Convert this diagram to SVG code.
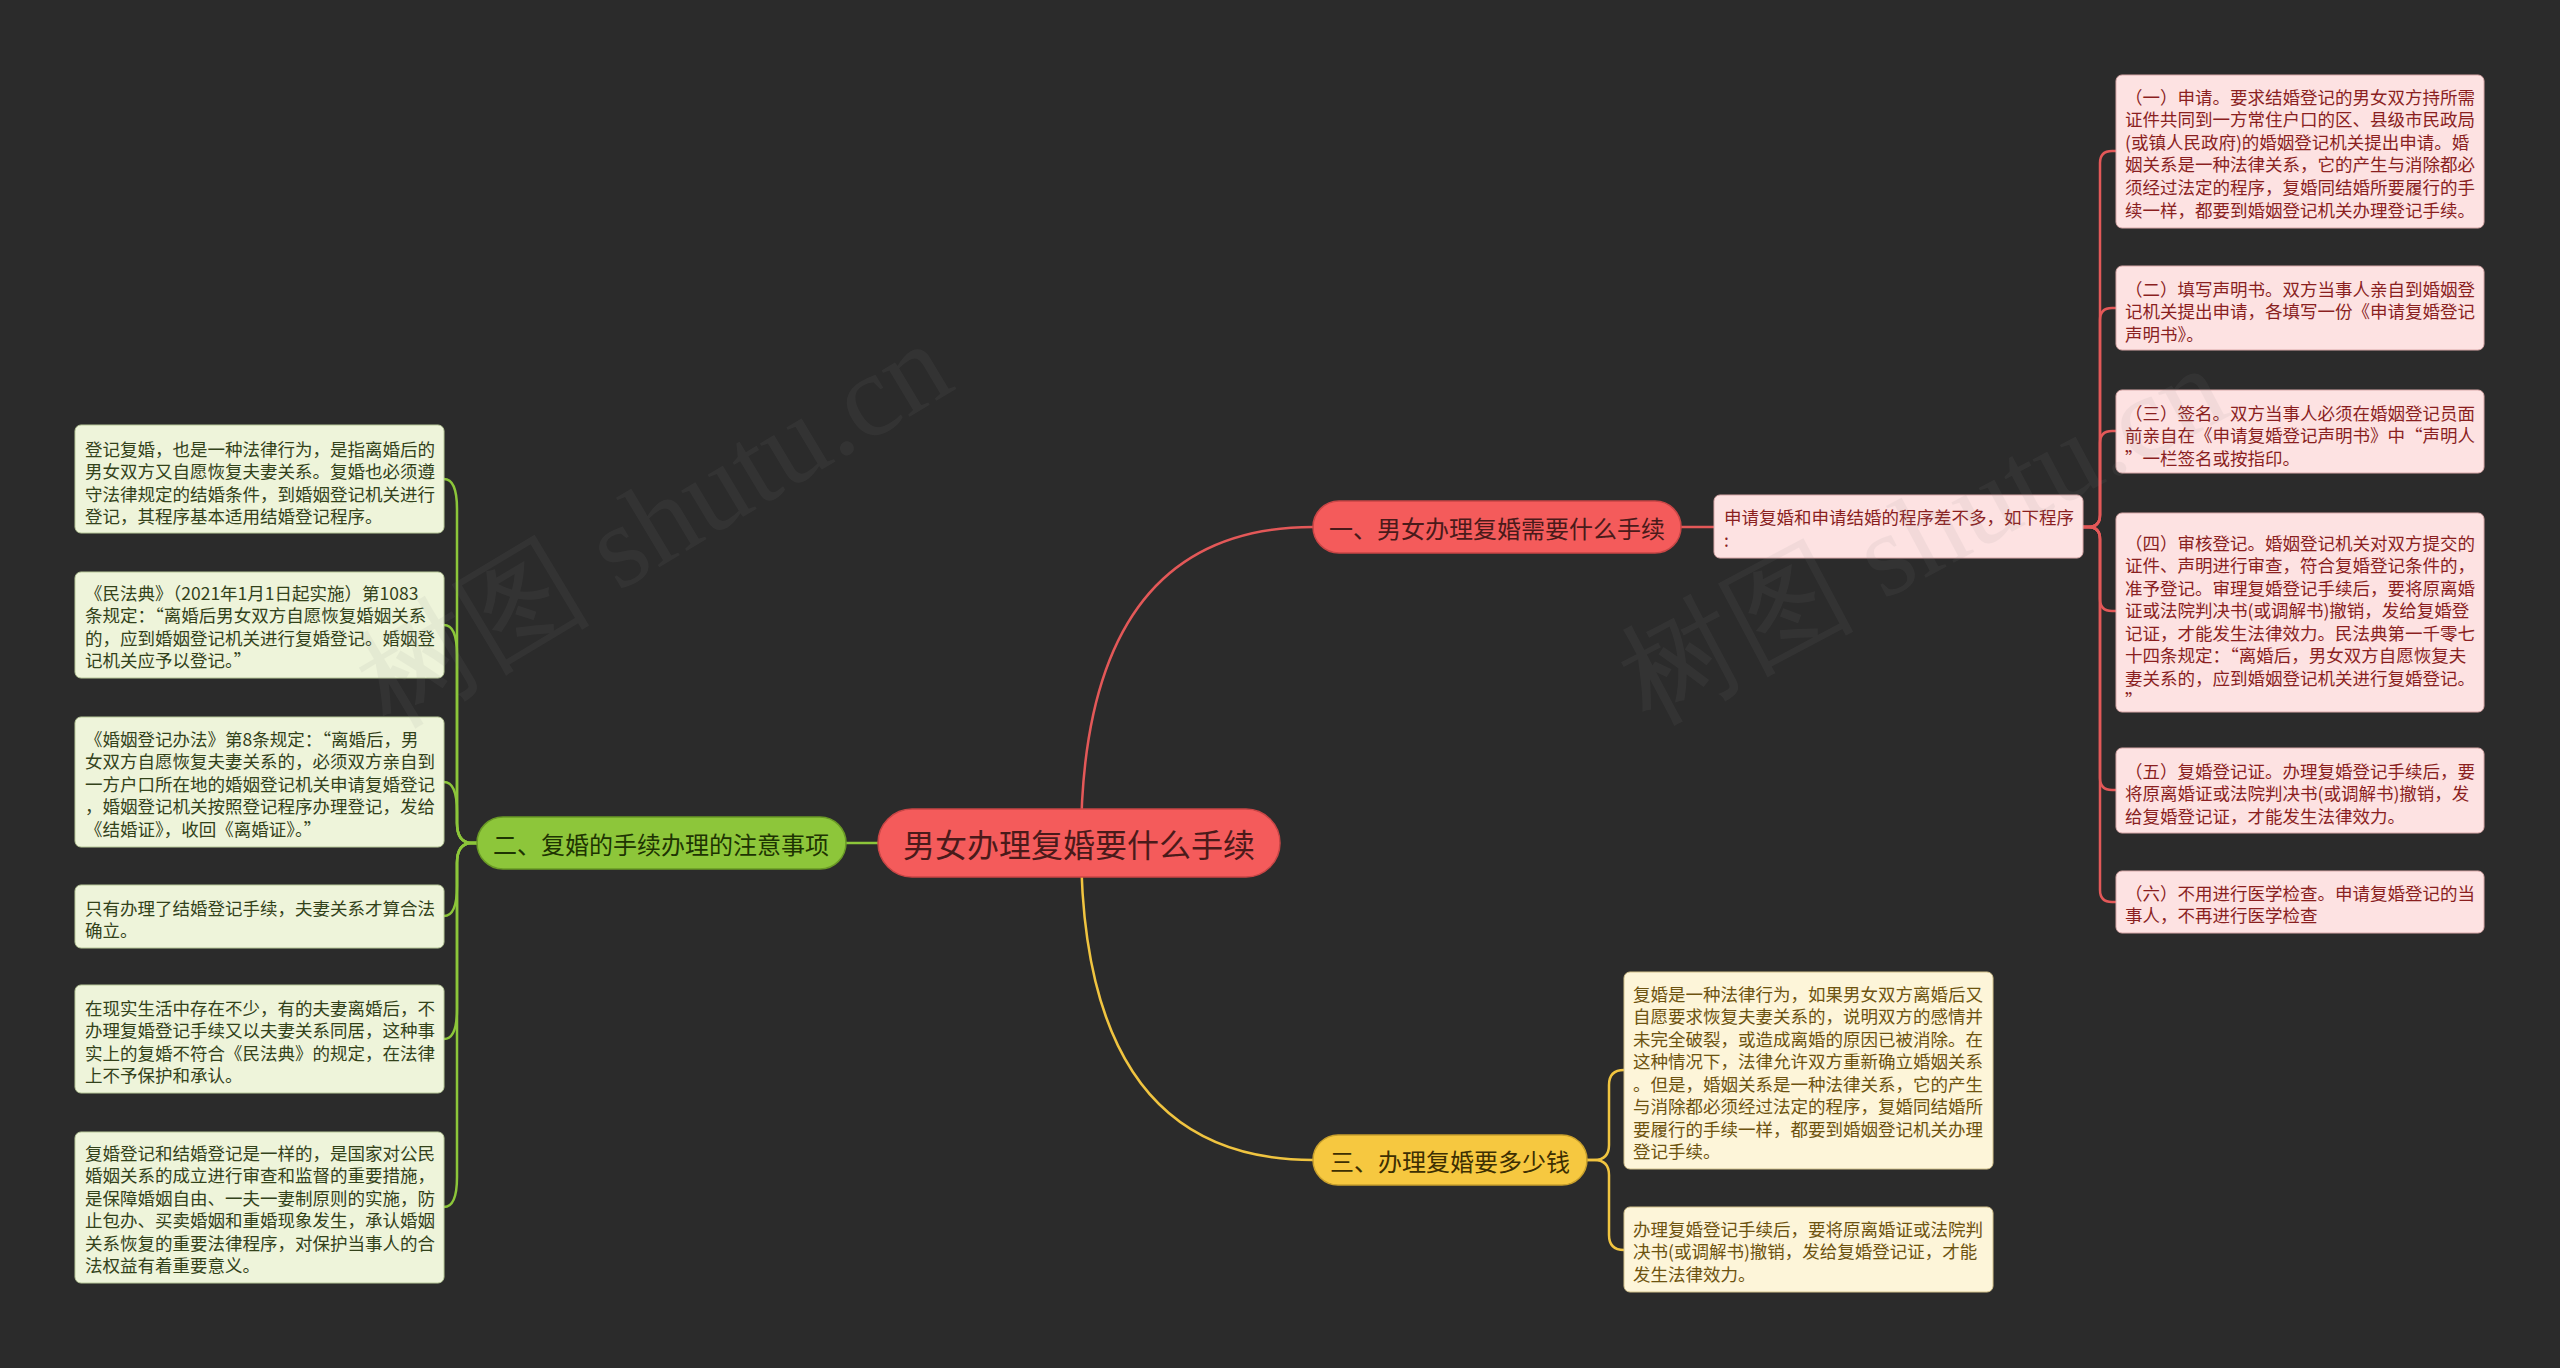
<svg xmlns="http://www.w3.org/2000/svg" width="2560" height="1368" viewBox="0 0 2560 1368">
<defs>
<style>
text{font-family:"Noto Sans CJK SC","Noto Sans",sans-serif;dominant-baseline:central}
.bg{fill:#2b2b2b}
.root{fill:#f45b5b;stroke:#c94646;stroke-width:1.5}
.roott{fill:#4a1a1a;font-size:32px}
.b1{fill:#f45b5b;stroke:#c94646;stroke-width:1.5}
.b1t{fill:#4a1a1a;font-size:24px}
.b2{fill:#8dc63a;stroke:#6a9a26;stroke-width:1.5}
.b2t{fill:#1e3402;font-size:24px}
.b3{fill:#f6c840;stroke:#c9a02c;stroke-width:1.5}
.b3t{fill:#3d2f02;font-size:24px}
.rc{fill:#fde2e2;stroke:#d9a9a9;stroke-width:1}
.rt{fill:#8a1f1f;font-size:17.5px}
.gc{fill:#eef4da;stroke:#b9c99a;stroke-width:1}
.gt{fill:#33421a;font-size:17.5px}
.yc{fill:#fdf5d9;stroke:#d3c28c;stroke-width:1}
.yt{fill:#6d5310;font-size:17.5px}
.lr{fill:none;stroke:#e35858;stroke-width:2.5}
.lg{fill:none;stroke:#8cc63a;stroke-width:2.5}
.ly{fill:none;stroke:#f0c440;stroke-width:2.5}
.wm{fill:#8a8a8a;opacity:0.09;font-family:"Liberation Serif",serif;font-size:118px}
</style>
</defs>
<rect class="bg" x="0" y="0" width="2560" height="1368"/>

<g id="connectors">
<path class="lr" d="M1081,843 Q1081,527 1313,527"/>
<path class="ly" d="M1081,843 Q1081,1160 1313,1160"/>
<path class="lg" d="M878,843 L846,843"/>
<path class="lr" d="M1681,527 L1714,527"/>
<path class="lr" d="M2083,527 H2088 Q2100,527 2100,515 V163 Q2100,151 2112,151 H2116"/>
<path class="lr" d="M2083,527 H2088 Q2100,527 2100,515 V320 Q2100,308 2112,308 H2116"/>
<path class="lr" d="M2083,527 H2088 Q2100,527 2100,515 V443 Q2100,431 2112,431 H2116"/>
<path class="lr" d="M2083,527 H2088 Q2100,527 2100,539 V599 Q2100,611 2112,611 H2116"/>
<path class="lr" d="M2083,527 H2088 Q2100,527 2100,539 V778 Q2100,790 2112,790 H2116"/>
<path class="lr" d="M2083,527 H2088 Q2100,527 2100,539 V890 Q2100,902 2112,902 H2116"/>
<path class="ly" d="M1587,1160 H1594 Q1609,1160 1609,1145 V1085 Q1609,1070 1624,1070"/>
<path class="ly" d="M1587,1160 H1594 Q1609,1160 1609,1175 V1235 Q1609,1250 1624,1250"/>
<path class="lg" d="M477,843 H472 Q457,843 457,823 V509 Q457,479 444,479"/>
<path class="lg" d="M477,843 H472 Q457,843 457,823 V655 Q457,625 444,625"/>
<path class="lg" d="M477,843 H472 Q457,843 457,823 V812 Q457,782 444,782"/>
<path class="lg" d="M477,843 H472 Q457,843 457,863 V886 Q457,916 444,916"/>
<path class="lg" d="M477,843 H472 Q457,843 457,863 V1009 Q457,1039 444,1039"/>
<path class="lg" d="M477,843 H472 Q457,843 457,863 V1177 Q457,1207 444,1207"/>
</g>

<g id="root">
<rect class="root" x="878" y="809" width="402" height="68" rx="34"/>
<text class="roott" x="1079" y="843" text-anchor="middle">男女办理复婚要什么手续</text>
</g>

<g id="branch1">
<rect class="b1" x="1313" y="501" width="368" height="52" rx="26"/>
<text class="b1t" x="1497" y="527" text-anchor="middle">一、男女办理复婚需要什么手续</text>
</g>
<g id="branch2">
<rect class="b2" x="477" y="817" width="369" height="52" rx="26"/>
<text class="b2t" x="661" y="843" text-anchor="middle">二、复婚的手续办理的注意事项</text>
</g>
<g id="branch3">
<rect class="b3" x="1313" y="1135" width="274" height="50" rx="25"/>
<text class="b3t" x="1450" y="1160" text-anchor="middle">三、办理复婚要多少钱</text>
</g>

<g id="mid1">
<rect class="rc" x="1714" y="495" width="369" height="63" rx="6"/>
<text class="rt" x="1724" y="516">申请复婚和申请结婚的程序差不多，如下程序</text>
<text class="rt" x="1724" y="539">:</text>
</g>

<g id="r1">
<rect class="rc" x="2116" y="75" width="368" height="153" rx="6"/>
<text class="rt" x="2125" y="96">（一）申请。要求结婚登记的男女双方持所需</text>
<text class="rt" x="2125" y="118.6">证件共同到一方常住户口的区、县级市民政局</text>
<text class="rt" x="2125" y="141.2">(或镇人民政府)的婚姻登记机关提出申请。婚</text>
<text class="rt" x="2125" y="163.8">姻关系是一种法律关系，它的产生与消除都必</text>
<text class="rt" x="2125" y="186.4">须经过法定的程序，复婚同结婚所要履行的手</text>
<text class="rt" x="2125" y="209">续一样，都要到婚姻登记机关办理登记手续。</text>
</g>
<g id="r2">
<rect class="rc" x="2116" y="266" width="368" height="84" rx="6"/>
<text class="rt" x="2125" y="288">（二）填写声明书。双方当事人亲自到婚姻登</text>
<text class="rt" x="2125" y="310.5">记机关提出申请，各填写一份《申请复婚登记</text>
<text class="rt" x="2125" y="333">声明书》。</text>
</g>
<g id="r3">
<rect class="rc" x="2116" y="390" width="368" height="83" rx="6"/>
<text class="rt" x="2125" y="412">（三）签名。双方当事人必须在婚姻登记员面</text>
<text class="rt" x="2125" y="434.5">前亲自在《申请复婚登记声明书》中“声明人</text>
<text class="rt" x="2125" y="457">”一栏签名或按指印。</text>
</g>
<g id="r4">
<rect class="rc" x="2116" y="513" width="368" height="199" rx="6"/>
<text class="rt" x="2125" y="542">（四）审核登记。婚姻登记机关对双方提交的</text>
<text class="rt" x="2125" y="564.5">证件、声明进行审查，符合复婚登记条件的，</text>
<text class="rt" x="2125" y="587">准予登记。审理复婚登记手续后，要将原离婚</text>
<text class="rt" x="2125" y="609.5">证或法院判决书(或调解书)撤销，发给复婚登</text>
<text class="rt" x="2125" y="632">记证，才能发生法律效力。民法典第一千零七</text>
<text class="rt" x="2125" y="654.5">十四条规定：“离婚后，男女双方自愿恢复夫</text>
<text class="rt" x="2125" y="677">妻关系的，应到婚姻登记机关进行复婚登记。</text>
<text class="rt" x="2125" y="699.5">”</text>
</g>
<g id="r5">
<rect class="rc" x="2116" y="748" width="368" height="85" rx="6"/>
<text class="rt" x="2125" y="770">（五）复婚登记证。办理复婚登记手续后，要</text>
<text class="rt" x="2125" y="792.5">将原离婚证或法院判决书(或调解书)撤销，发</text>
<text class="rt" x="2125" y="815">给复婚登记证，才能发生法律效力。</text>
</g>
<g id="r6">
<rect class="rc" x="2116" y="871" width="368" height="62" rx="6"/>
<text class="rt" x="2125" y="892">（六）不用进行医学检查。申请复婚登记的当</text>
<text class="rt" x="2125" y="914.5">事人，不再进行医学检查</text>
</g>

<g id="g1">
<rect class="gc" x="75" y="425" width="369" height="108" rx="6"/>
<text class="gt" x="85" y="448">登记复婚，也是一种法律行为，是指离婚后的</text>
<text class="gt" x="85" y="470.5">男女双方又自愿恢复夫妻关系。复婚也必须遵</text>
<text class="gt" x="85" y="493">守法律规定的结婚条件，到婚姻登记机关进行</text>
<text class="gt" x="85" y="515.5">登记，其程序基本适用结婚登记程序。</text>
</g>
<g id="g2">
<rect class="gc" x="75" y="572" width="369" height="106" rx="6"/>
<text class="gt" x="85" y="592">《民法典》（2021年1月1日起实施）第1083</text>
<text class="gt" x="85" y="614.5">条规定：“离婚后男女双方自愿恢复婚姻关系</text>
<text class="gt" x="85" y="637">的，应到婚姻登记机关进行复婚登记。婚姻登</text>
<text class="gt" x="85" y="659.5">记机关应予以登记。”</text>
</g>
<g id="g3">
<rect class="gc" x="75" y="717" width="369" height="130" rx="6"/>
<text class="gt" x="85" y="738">《婚姻登记办法》第8条规定：“离婚后，男</text>
<text class="gt" x="85" y="760.5">女双方自愿恢复夫妻关系的，必须双方亲自到</text>
<text class="gt" x="85" y="783">一方户口所在地的婚姻登记机关申请复婚登记</text>
<text class="gt" x="85" y="805.5">，婚姻登记机关按照登记程序办理登记，发给</text>
<text class="gt" x="85" y="828">《结婚证》，收回《离婚证》。”</text>
</g>
<g id="g4">
<rect class="gc" x="75" y="885" width="369" height="63" rx="6"/>
<text class="gt" x="85" y="907">只有办理了结婚登记手续，夫妻关系才算合法</text>
<text class="gt" x="85" y="929.5">确立。</text>
</g>
<g id="g5">
<rect class="gc" x="75" y="985" width="369" height="108" rx="6"/>
<text class="gt" x="85" y="1007">在现实生活中存在不少，有的夫妻离婚后，不</text>
<text class="gt" x="85" y="1029.5">办理复婚登记手续又以夫妻关系同居，这种事</text>
<text class="gt" x="85" y="1052">实上的复婚不符合《民法典》的规定，在法律</text>
<text class="gt" x="85" y="1074.5">上不予保护和承认。</text>
</g>
<g id="g6">
<rect class="gc" x="75" y="1132" width="369" height="151" rx="6"/>
<text class="gt" x="85" y="1152">复婚登记和结婚登记是一样的，是国家对公民</text>
<text class="gt" x="85" y="1174.5">婚姻关系的成立进行审查和监督的重要措施，</text>
<text class="gt" x="85" y="1197">是保障婚姻自由、一夫一妻制原则的实施，防</text>
<text class="gt" x="85" y="1219.5">止包办、买卖婚姻和重婚现象发生，承认婚姻</text>
<text class="gt" x="85" y="1242">关系恢复的重要法律程序，对保护当事人的合</text>
<text class="gt" x="85" y="1264.5">法权益有着重要意义。</text>
</g>

<g id="y1">
<rect class="yc" x="1624" y="972" width="369" height="197" rx="6"/>
<text class="yt" x="1633" y="993">复婚是一种法律行为，如果男女双方离婚后又</text>
<text class="yt" x="1633" y="1015.5">自愿要求恢复夫妻关系的，说明双方的感情并</text>
<text class="yt" x="1633" y="1038">未完全破裂，或造成离婚的原因已被消除。在</text>
<text class="yt" x="1633" y="1060.5">这种情况下，法律允许双方重新确立婚姻关系</text>
<text class="yt" x="1633" y="1083">。但是，婚姻关系是一种法律关系，它的产生</text>
<text class="yt" x="1633" y="1105.5">与消除都必须经过法定的程序，复婚同结婚所</text>
<text class="yt" x="1633" y="1128">要履行的手续一样，都要到婚姻登记机关办理</text>
<text class="yt" x="1633" y="1150.5">登记手续。</text>
</g>
<g id="y2">
<rect class="yc" x="1624" y="1207" width="369" height="85" rx="6"/>
<text class="yt" x="1633" y="1228">办理复婚登记手续后，要将原离婚证或法院判</text>
<text class="yt" x="1633" y="1250.5">决书(或调解书)撤销，发给复婚登记证，才能</text>
<text class="yt" x="1633" y="1273">发生法律效力。</text>
</g>

<g id="watermarks">
<text class="wm" transform="translate(370,695) rotate(-31)">树图 shutu.cn</text>
<text class="wm" transform="translate(1630,690) rotate(-28)">树图 shutu.cn</text>
</g>
</svg>
